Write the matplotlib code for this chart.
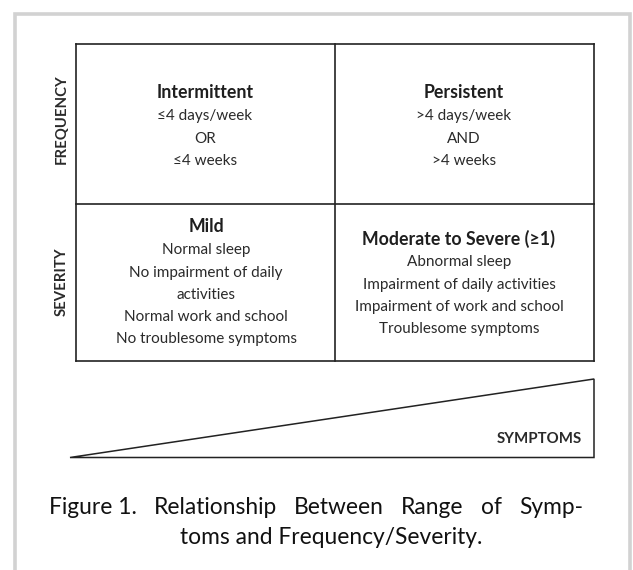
import matplotlib
matplotlib.use("Agg")
import matplotlib.pyplot as plt
from matplotlib.patches import Polygon

plt.rcParams['font.family'] = ['Lato', 'DejaVu Sans']

# ---- content ----
row_labels = ["FREQUENCY", "SEVERITY"]
cell_titles = ["Intermittent", "Persistent", "Mild", "Moderate to Severe (\u22651)"]
cell_lines = [
    ["\u22644 days/week", "OR", "\u22644 weeks"],
    [">4 days/week", "AND", ">4 weeks"],
    ["Normal sleep", "No impairment of daily", "activities",
     "Normal work and school", "No troublesome symptoms"],
    ["Abnormal sleep", "Impairment of daily activities",
     "Impairment of work and school", "Troublesome symptoms"],
]
arrow_label = "SYMPTOMS"
caption_lines = ["Figure 1.  Relationship Between Range of Symp-",
                 "toms and Frequency/Severity."]

# ---- layout (pixel coordinates) ----
W, H = 633, 570
fig = plt.figure(figsize=(W / 100, H / 100), dpi=100)
ax = fig.add_axes([0, 0, 1, 1])
ax.set_xlim(0, W)
ax.set_ylim(H, 0)
ax.axis('off')

# outer light frame (no bottom edge)
frame_c = '#d2d2d2'
ax.plot([15, 15, 630, 630], [H, 13.5, 13.5, H], color=frame_c, lw=2.6,
        solid_joinstyle='miter')

# grid
gl, gm, gr = 75.5, 335, 593.5
gt, gmid, gb = 44, 204, 360.5
line_c = '#222222'
lw = 1.2
for y in (gt, gmid, gb):
    ax.plot([gl, gr], [y, y], color=line_c, lw=lw)
for x in (gl, gm, gr):
    ax.plot([x, x], [gt, gb], color=line_c, lw=lw)

text_c = '#2a2a2a'
body_fs = 11.0
title_fs = 12.8

# row labels
ax.text(62, 119, row_labels[0], rotation=90, ha='center', va='center',
        fontsize=10.7, fontweight='bold', color=text_c)
ax.text(62, 282, row_labels[1], rotation=90, ha='center', va='center',
        fontsize=10.7, fontweight='bold', color=text_c)

# cells
centers_x = [205, 464, 206, 459]
title_y = [93, 93, 227, 239]
step = 22.3
for i in range(4):
    ax.text(centers_x[i], title_y[i], cell_titles[i], ha='center', va='center',
            fontsize=title_fs, fontweight='bold', color='#1e1e1e')
    for j, s in enumerate(cell_lines[i]):
        ax.text(centers_x[i], title_y[i] + step * (j + 1) + 1, s,
                ha='center', va='center', fontsize=body_fs, color=text_c)

# symptoms wedge
tri = Polygon([[70, 457.5], [594, 379], [594, 457.5]], closed=True,
              facecolor='white', edgecolor=line_c, lw=1.1)
ax.add_patch(tri)
ax.text(582, 439, arrow_label, ha='right', va='center', fontsize=10.8,
        fontweight='bold', color=text_c)

# caption: first line justified between left and right edges, last centered
cap_fs = 16.4
cap_c = '#111111'
cap_left, cap_right = 49, 583
head, rest = caption_lines[0].split("  ", 1)
units = [head] + rest.split()
txts = [ax.text(0, 507, w, ha='left', va='center', fontsize=cap_fs, color=cap_c)
        for w in units]
renderer = fig.canvas.get_renderer()
widths = [t.get_window_extent(renderer).width for t in txts]
gap = (cap_right - cap_left - sum(widths)) / (len(units) - 1)
x = cap_left
for t, wd in zip(txts, widths):
    t.set_x(x)
    x += wd + gap
ax.text(331, 537, caption_lines[1], ha='center', va='center',
        fontsize=cap_fs, color=cap_c)

fig.savefig('out.png', dpi=100, facecolor='white')
